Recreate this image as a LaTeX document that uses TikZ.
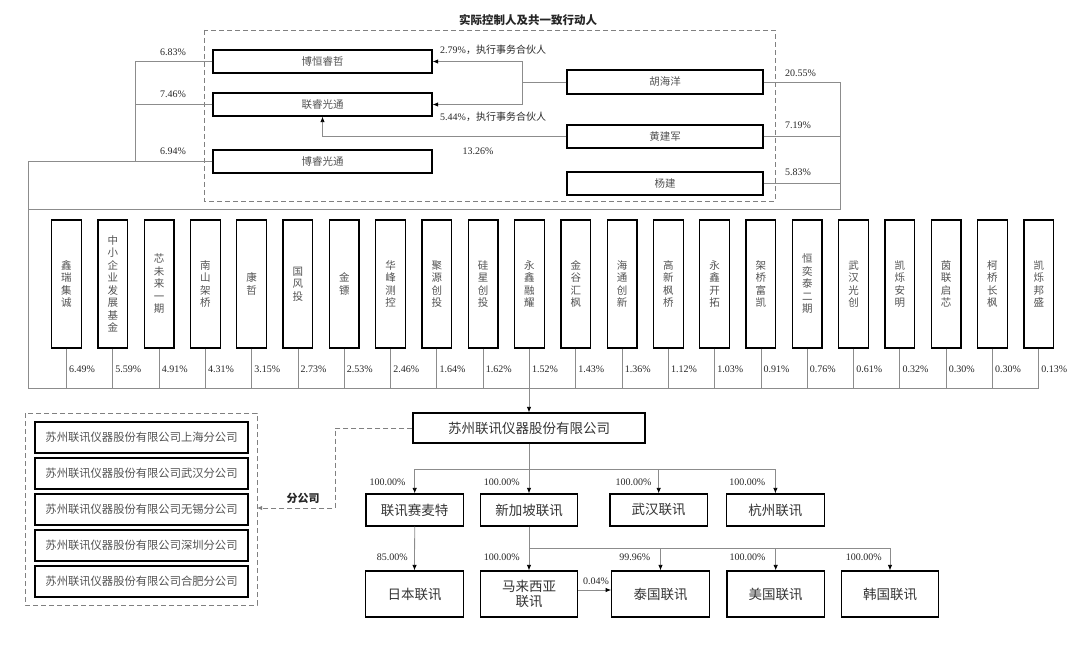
\documentclass[tikz,border=0pt]{standalone}
\usepackage{fontspec}
\setmainfont{Liberation Serif}
\newfontfamily\cjk{Noto Sans CJK SC}
\usetikzlibrary{arrows.meta,calc}
\begin{document}
\begin{tikzpicture}[x=1pt,y=-1pt,
  box/.style={draw=black,line width=1.3pt,inner sep=0pt,text=black!68,font=\cjk\fontsize{10.5}{12.5}\selectfont,align=center},
  bigbox/.style={box,font=\cjk\fontsize{13.5}{16}\selectfont,text=black!80},
  conn/.style={draw=black!45,line width=0.8pt},
  arr/.style={conn,-{Latex[length=5.5pt,width=4.5pt,color=black]}},
  pct/.style={font=\fontsize{10}{12}\selectfont,text=black!85,inner sep=0pt},
  dbox/.style={draw=black!50,line width=0.9pt,dash pattern=on 5pt off 3pt},
]
\useasboundingbox (0,0) rectangle (1080,658);

% ---------- controller group ----------
\node[font=\cjk\bfseries\fontsize{11.5}{13}\selectfont,text=black!85] (title) at (528,20) {实际控制人及共一致行动人};
\draw[dbox] (204,30) rectangle (775,201);

\node[box,minimum width=219,minimum height=23] (bhrz) at (322.5,61.5) {博恒睿哲};
\node[box,minimum width=219,minimum height=23] (lrgt) at (322.5,104.5) {联睿光通};
\node[box,minimum width=219,minimum height=23] (brgt) at (322.5,161.5) {博睿光通};
\node[box,minimum width=196,minimum height=24] (hhy) at (665,82) {胡海洋};
\node[box,minimum width=196,minimum height=23] (hjj) at (665,136.5) {黄建军};
\node[box,minimum width=196,minimum height=23] (yj) at (665,183.5) {杨建};

\coordinate (busL) at (28,388);
\coordinate (rc) at (840,209);

% left platforms
\draw[conn] (bhrz.west) -- ++(-77,0) coordinate (a1) -- (a1 |- brgt.west);
\draw[conn] (lrgt.west) -- (lrgt.west -| a1);
\draw[conn] (brgt.west) -- (brgt.west -| busL) -- (busL);
\node[pct] at (173,52) {6.83\%};
\node[pct] at (173,94) {7.46\%};
\node[pct] at (173,151) {6.94\%};

% right persons
\draw[conn] (hhy.east) -- (hhy.east -| rc) -- (rc) -- (rc -| busL);
\draw[conn] (hjj.east) -- (hjj.east -| rc);
\draw[conn] (yj.east) -- (yj.east -| rc);
\node[pct,anchor=west] at (785,73) {20.55\%};
\node[pct,anchor=west] at (785,125) {7.19\%};
\node[pct,anchor=west] at (785,172) {5.83\%};

% GP arrows
\draw[conn] (hhy.west) -- ++(-44,0) coordinate (hm);
\draw[arr] (hm) |- (bhrz.east);
\draw[arr] (hm) |- (lrgt.east);
\draw[arr] (hjj.west) -| (lrgt.south);
\node[pct,anchor=west] at (440,50) {2.79\%{\cjk ，执行事务合伙人}};
\node[pct,anchor=west] at (440,117) {5.44\%{\cjk ，执行事务合伙人}};
\node[pct] at (478,151) {13.26\%};

% ---------- shareholders ----------
\draw[conn] (busL) -- (1039,388);
\foreach \nm/\p [count=\i] in {
  {鑫\\瑞\\集\\诚}/6.49,
  {中\\小\\企\\业\\发\\展\\基\\金}/5.59,
  {芯\\未\\来\\一\\期}/4.91,
  {南\\山\\架\\桥}/4.31,
  {康\\哲}/3.15,
  {国\\风\\投}/2.73,
  {金\\镖}/2.53,
  {华\\峰\\测\\控}/2.46,
  {聚\\源\\创\\投}/1.64,
  {硅\\星\\创\\投}/1.62,
  {永\\鑫\\融\\耀}/1.52,
  {金\\谷\\汇\\枫}/1.43,
  {海\\通\\创\\新}/1.36,
  {高\\新\\枫\\桥}/1.12,
  {永\\鑫\\开\\拓}/1.03,
  {架\\桥\\富\\凯}/0.91,
  {恒\\奕\\泰\\二\\期}/0.76,
  {武\\汉\\光\\创}/0.61,
  {凯\\烁\\安\\明}/0.32,
  {茵\\联\\启\\芯}/0.30,
  {柯\\桥\\长\\枫}/0.30,
  {凯\\烁\\邦\\盛}/0.13}{
  \node[box,minimum width=29.7,minimum height=128] (s\i) at ({66.45+46.3*(\i-1)},284) {\nm};
  \draw[conn] (s\i.south) -- (s\i.south |- busL);
  \node[pct,anchor=west] at ($(s\i.south)+(2.5,21)$) {\p\%};
}

% ---------- company ----------
\node[bigbox,minimum width=232,minimum height=30] (sz) at (529,428) {苏州联讯仪器股份有限公司};
\draw[arr] (sz.north |- busL) -- (sz.north);

% branches
\draw[dbox] (25,413) rectangle (257,605);
\coordinate (brR) at (257,508);
\foreach \c [count=\i] in {上海,武汉,无锡,深圳,合肥}{
  \node[box,font=\cjk\fontsize{11.3}{13}\selectfont,minimum width=213,minimum height=31] (b\i) at (141.5,{437.5+36*(\i-1)}) {苏州联讯仪器股份有限公司\c 分公司};
}
\draw[dbox,-{Latex[length=5pt,width=4.5pt]}] (sz.west) -- (sz.west -| 335,0) |- (brR);
\node[font=\cjk\bfseries\fontsize{11}{13}\selectfont,text=black!85] (fgs) at (303,498) {分公司};

% level 2
\node[bigbox,minimum width=97.5,minimum height=32] (lxsmt) at (414.7,510) {联讯赛麦特};
\node[bigbox,minimum width=97.5,minimum height=32] (xjp) at (529,510) {新加坡联讯};
\node[bigbox,minimum width=97.5,minimum height=32] (whlx) at (658.7,510) {武汉联讯};
\node[bigbox,minimum width=97.5,minimum height=32] (hzlx) at (775.4,510) {杭州联讯};
\coordinate (l2) at (0,469);
\draw[arr] (sz.south) -- (xjp.north);
\draw[conn] (lxsmt.north |- l2) -- (hzlx.north |- l2);
\draw[arr] (lxsmt.north |- l2) -- (lxsmt.north);
\draw[arr] (whlx.north |- l2) -- (whlx.north);
\draw[arr] (hzlx.north |- l2) -- (hzlx.north);
\node[pct,anchor=east] at ($(lxsmt.north)+(-9,-11)$) {100.00\%};
\node[pct,anchor=east] at ($(xjp.north)+(-9,-11)$) {100.00\%};
\node[pct,anchor=east] at ($(whlx.north)+(-7,-11)$) {100.00\%};
\node[pct,anchor=east] at ($(hzlx.north)+(-10,-11)$) {100.00\%};

% level 3
\node[bigbox,minimum width=97.5,minimum height=46] (jp) at (414.5,594) {日本联讯};
\node[bigbox,minimum width=97.5,minimum height=46,font=\cjk\fontsize{13.5}{15.5}\selectfont] (my) at (529,594) {马来西亚\\联讯};
\node[bigbox,minimum width=97.5,minimum height=46] (th) at (660.5,594) {泰国联讯};
\node[bigbox,minimum width=97.5,minimum height=46] (us) at (775.7,594) {美国联讯};
\node[bigbox,minimum width=97.5,minimum height=46] (kr) at (890,594) {韩国联讯};
\coordinate (l3) at (0,548);
\draw[arr] (lxsmt.south) -- (jp.north);
\draw[arr] (xjp.south) -- (my.north);
\draw[conn] (xjp.south |- l3) -- (kr.north |- l3);
\draw[arr] (th.north |- l3) -- (th.north);
\draw[arr] (us.north |- l3) -- (us.north);
\draw[arr] (kr.north |- l3) -- (kr.north);
\draw[arr] ([yshift=4pt]my.east) -- ([yshift=4pt]my.east -| th.west);
\node[pct,anchor=east] at ($(jp.north)+(-6.5,-13)$) {85.00\%};
\node[pct,anchor=east] at ($(my.north)+(-9,-13)$) {100.00\%};
\node[pct,anchor=east] at ($(th.north)+(-10,-13)$) {99.96\%};
\node[pct,anchor=east] at ($(us.north)+(-10,-13)$) {100.00\%};
\node[pct,anchor=east] at ($(kr.north)+(-8,-13)$) {100.00\%};
\node[pct] at (596,581) {0.04\%};
\end{tikzpicture}
\end{document}
